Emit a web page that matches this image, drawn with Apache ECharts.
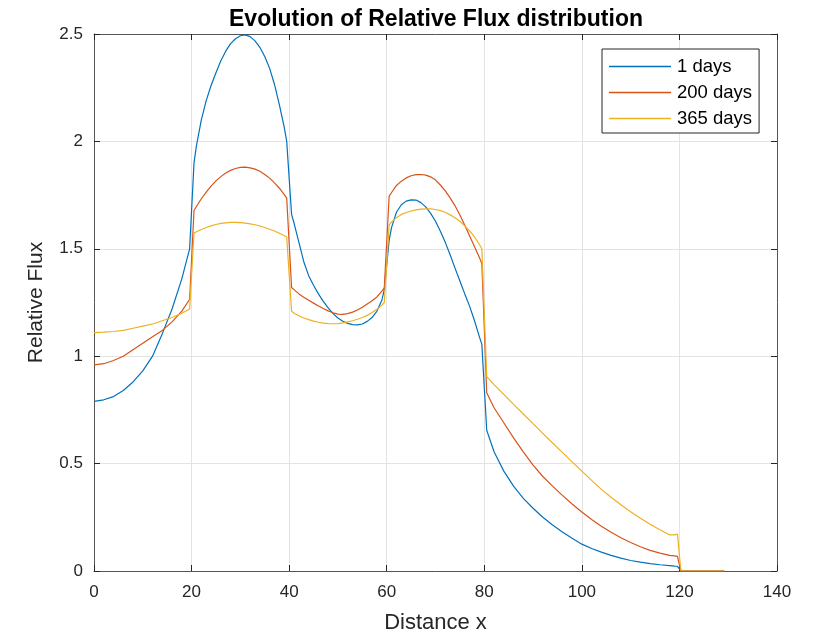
<!DOCTYPE html>
<html>
<head>
<meta charset="utf-8">
<script src="https://cdn.jsdelivr.net/npm/echarts@6/dist/echarts.min.js"></script>
<style>
html,body{margin:0;padding:0;background:#fff;}
#chart{width:815px;height:639px;}
</style>
</head>
<body>
<div id="chart"></div>
<script>
// Distance x sample positions
var xs = [0,2,4,6,8,10,12,14,16,18,19.6,
  20.5,21,22,23,24,25,26,27,28,29,30,31,32,33,34,35,36,37,38,39,39.5,
  40.5,41,42,43,44,45,46,47,48,49,50,51,52,53,54,55,56,57,58,59,59.5,
  60.5,61,62,63,64,65,66,67,68,69,70,71,72,73,74,75,76,77,78,79,79.5,
  80.5,82,84,86,88,90,92,94,96,98,100,102,104,106,108,110,112,114,116,118,119,119.6,
  120.3,122,124,126,128,129.2];

var day1 = [0.79,0.797,0.812,0.84,0.88,0.932,1.00,1.105,1.22,1.36,1.50,
  1.90,1.98,2.10,2.19,2.26,2.32,2.375,2.42,2.455,2.478,2.492,2.496,2.488,2.468,2.438,2.395,2.34,2.265,2.17,2.065,2.00,
  1.66,1.62,1.53,1.44,1.375,1.33,1.29,1.255,1.225,1.198,1.178,1.163,1.153,1.147,1.146,1.15,1.162,1.18,1.21,1.26,1.31,
  1.54,1.60,1.67,1.705,1.722,1.728,1.727,1.715,1.695,1.665,1.628,1.582,1.53,1.472,1.41,1.35,1.29,1.232,1.165,1.09,1.055,
  0.655,0.555,0.465,0.395,0.338,0.292,0.25,0.214,0.182,0.152,0.125,0.105,0.088,0.073,0.06,0.049,0.041,0.034,0.029,0.025,0.023,0.022,
  0,0,0,0,0,0];

var day200 = [0.96,0.965,0.98,1.0,1.03,1.06,1.09,1.12,1.16,1.21,1.265,
  1.678,1.697,1.733,1.764,1.792,1.816,1.836,1.853,1.865,1.874,1.879,1.880,1.877,1.871,1.861,1.846,1.829,1.807,1.782,1.752,1.736,
  1.32,1.31,1.29,1.275,1.26,1.247,1.234,1.222,1.211,1.202,1.196,1.195,1.198,1.205,1.215,1.228,1.243,1.258,1.276,1.303,1.318,
  1.745,1.762,1.795,1.815,1.830,1.840,1.845,1.846,1.843,1.835,1.82,1.797,1.77,1.737,1.70,1.657,1.61,1.56,1.51,1.46,1.43,
  0.83,0.76,0.69,0.62,0.555,0.493,0.44,0.395,0.352,0.312,0.275,0.24,0.208,0.18,0.155,0.133,0.113,0.096,0.083,0.073,0.07,0.068,
  0,0,0,0,0,0];

var day365 = [1.11,1.112,1.115,1.12,1.13,1.14,1.15,1.165,1.18,1.20,1.22,
  1.573,1.579,1.590,1.599,1.607,1.613,1.618,1.621,1.623,1.623,1.622,1.6195,1.616,1.612,1.606,1.599,1.591,1.583,1.572,1.561,1.555,
  1.209,1.2,1.188,1.178,1.17,1.163,1.158,1.154,1.152,1.151,1.152,1.155,1.16,1.165,1.172,1.18,1.19,1.203,1.218,1.238,1.25,
  1.61,1.625,1.645,1.66,1.669,1.676,1.681,1.685,1.686,1.686,1.683,1.678,1.67,1.658,1.645,1.628,1.607,1.583,1.555,1.52,1.50,
  0.905,0.868,0.822,0.776,0.731,0.686,0.641,0.596,0.552,0.508,0.465,0.422,0.38,0.343,0.308,0.276,0.246,0.218,0.192,0.168,0.168,0.172,
  0,0,0,0,0,0];

var seriesNames = ['1 days','200 days','365 days'];
var seriesColors = ['#0072BD','#D95319','#EDB120'];

function pairs(ys){ return xs.map(function(x,i){ return [x, ys[i]]; }); }

var FONT = 'Liberation Sans, Arial, Helvetica, sans-serif';
var AX = '#262626';
function axLine(){ return {show:true,onZero:false,lineStyle:{color:'#555',width:1}}; }
function axTick(){ return {show:true,inside:true,length:6,lineStyle:{color:AX,width:1}}; }

var chart = echarts.init(document.getElementById('chart'), null, {renderer:'canvas'});
chart.setOption({
  backgroundColor:'#fff',
  animation:false,
  title:{text:'Evolution of Relative Flux distribution',left:431,textAlign:'center',top:3,
    textStyle:{fontFamily:FONT,fontSize:23,fontWeight:'bold',color:'#000'}},
  grid:{left:94,top:34,right:38,bottom:67,containLabel:false},
  legend:{
    data:seriesNames, orient:'vertical', left:602, top:49,
    icon:'rect', itemWidth:62, itemHeight:1.5, itemGap:7,
    padding:[8,7,5,7], borderColor:AX, borderWidth:1, backgroundColor:'#fff',
    textStyle:{fontFamily:FONT,fontSize:18.5,color:'#000',padding:[0,0,0,1]}
  },
  xAxis:[
    {type:'value',min:0,max:140,interval:20,position:'bottom',
      name:'Distance x',nameLocation:'middle',nameGap:41,
      nameTextStyle:{fontFamily:FONT,fontSize:22,color:AX},
      axisLine:axLine(),axisTick:axTick(),
      axisLabel:{fontFamily:FONT,fontSize:17,color:AX,margin:13},
      splitLine:{show:true,lineStyle:{color:'#e3e3e3',width:1}}},
    {type:'value',min:0,max:140,interval:20,position:'top',
      axisLine:axLine(),axisTick:axTick(),
      axisLabel:{show:false},splitLine:{show:false}}
  ],
  yAxis:[
    {type:'value',min:0,max:2.5,interval:0.5,position:'left',
      name:'Relative Flux',nameLocation:'middle',nameGap:47,
      nameTextStyle:{fontFamily:FONT,fontSize:21,color:AX},
      axisLine:axLine(),axisTick:axTick(),
      axisLabel:{fontFamily:FONT,fontSize:17,color:AX,margin:11},
      splitLine:{show:true,lineStyle:{color:'#e3e3e3',width:1}}},
    {type:'value',min:0,max:2.5,interval:0.5,position:'right',
      axisLine:axLine(),axisTick:axTick(),
      axisLabel:{show:false},splitLine:{show:false}}
  ],
  series:[day1,day200,day365].map(function(ys,k){
    return {name:seriesNames[k],type:'line',data:pairs(ys),showSymbol:false,
      lineStyle:{color:seriesColors[k],width:1.2},itemStyle:{color:seriesColors[k]}};
  })
});
</script>
</body>
</html>
